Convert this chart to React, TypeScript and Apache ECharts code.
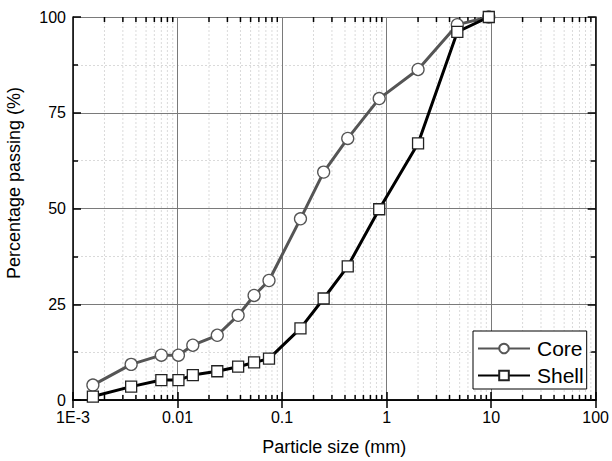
import React, { useEffect, useRef } from 'react';
import * as echarts from 'echarts';

const particleSize = [0.00155, 0.0036, 0.007, 0.0102, 0.014, 0.024, 0.038, 0.054, 0.075, 0.15, 0.25, 0.425, 0.85, 2, 4.75, 9.5];
const corePassing = [3.9, 9.3, 11.7, 11.7, 14.3, 16.9, 22.1, 27.3, 31.2, 47.3, 59.5, 68.3, 78.7, 86.3, 98.0, 100];
const shellPassing = [0.9, 3.5, 5.2, 5.2, 6.5, 7.5, 8.7, 9.8, 10.8, 18.7, 26.5, 34.9, 49.8, 67.0, 96.1, 100];

const decadeStarts = [0.001, 0.01, 0.1, 1, 10];
const minorMultipliers = [2, 3, 4, 5, 6, 7, 8, 9];
const minorXTicks: number[] = [];
decadeStarts.forEach((d) => minorMultipliers.forEach((m) => minorXTicks.push(+(d * m).toPrecision(6))));

const xLabelByExp: Record<number, string> = { [-3]: '1E-3', [-2]: '0.01', [-1]: '0.1', 0: '1', 1: '10', 2: '100' };

const FONT = "'Liberation Sans', Arial, sans-serif";

export default function App() {
  const ref = useRef<HTMLDivElement>(null);
  useEffect(() => {
    if (!ref.current) return;
    const chart = echarts.init(ref.current, null, { renderer: 'svg' });
    const xBase = {
      type: 'log' as const,
      logBase: 10,
      min: 0.001,
      max: 100,
      splitNumber: 5,
    };
    chart.setOption({
      animation: false,
      backgroundColor: '#fff',
      textStyle: { fontFamily: FONT },
      grid: { left: 73, right: 12, top: 17, bottom: 59, containLabel: false },
      xAxis: [
        {
          ...xBase,
          position: 'bottom',
          axisLine: { show: true, lineStyle: { color: '#000', width: 1.5 } },
          axisTick: { show: true, inside: true, length: 8, lineStyle: { color: '#000', width: 1.5 } },
          axisLabel: {
            show: true,
            color: '#000',
            fontSize: 16,
            fontFamily: FONT,
            margin: 9,
            formatter: (v: number) => xLabelByExp[Math.round(Math.log10(v))] ?? '',
          },
          splitLine: { show: true, lineStyle: { color: '#7a7a7a', width: 1 } },
          name: 'Particle size (mm)',
          nameLocation: 'middle',
          nameGap: 38,
          nameTextStyle: { fontSize: 18, color: '#000', fontFamily: FONT },
        },
        {
          ...xBase,
          position: 'top',
          axisLine: { show: true, lineStyle: { color: '#000', width: 1.5 } },
          axisTick: { show: true, inside: true, length: 8, lineStyle: { color: '#000', width: 1.5 } },
          axisLabel: { show: false },
          splitLine: { show: false },
        },
      ],
      yAxis: [
        {
          type: 'value',
          min: 0,
          max: 100,
          interval: 25,
          position: 'left',
          axisLine: { show: true, lineStyle: { color: '#000', width: 1.5 } },
          axisTick: { show: true, inside: true, length: 8, lineStyle: { color: '#000', width: 1.5 } },
          minorTick: { show: true, splitNumber: 2, length: 5, lineStyle: { color: '#000', width: 1.5 } },
          minorSplitLine: { show: true, lineStyle: { color: '#dadada', width: 1, type: [2, 2] } },
          axisLabel: { show: true, color: '#000', fontSize: 16, fontFamily: FONT, margin: 7 },
          splitLine: { show: true, lineStyle: { color: '#7a7a7a', width: 1 } },
        },
        {
          type: 'value',
          min: 0,
          max: 100,
          interval: 25,
          position: 'right',
          axisLine: { show: true, lineStyle: { color: '#000', width: 1.5 } },
          axisTick: { show: true, inside: true, length: 8, lineStyle: { color: '#000', width: 1.5 } },
          minorTick: { show: true, splitNumber: 2, length: 5, lineStyle: { color: '#000', width: 1.5 } },
          axisLabel: { show: false },
          splitLine: { show: false },
        },
      ],
      legend: {
        data: ['Core', 'Shell'],
        orient: 'vertical',
        left: 473,
        top: 331,
        padding: [7, 3, 3, 4],
        itemGap: 6,
        itemWidth: 52,
        itemHeight: 12,
        backgroundColor: '#fff',
        borderColor: '#000',
        borderWidth: 1,
        borderRadius: 0,
        textStyle: { fontSize: 21, color: '#000', fontFamily: FONT, lineHeight: 21, padding: [0, 0, 0, 2] },
      },
      graphic: [
        {
          type: 'text',
          x: 14,
          y: 183,
          rotation: Math.PI / 2,
          style: {
            text: 'Percentage passing (%)',
            fontSize: 18,
            fontFamily: FONT,
            fill: '#000',
            align: 'center',
            verticalAlign: 'middle',
          },
        },
      ],
      series: [
        {
          type: 'custom',
          name: 'minorX',
          xAxisIndex: 0,
          yAxisIndex: 0,
          silent: true,
          z: 1,
          data: minorXTicks.map((v) => [v, 0]),
          renderItem: (params: any, api: any) => {
            const v = api.value(0);
            const b = api.coord([v, 0]);
            const t = api.coord([v, 100]);
            return {
              type: 'group',
              children: [
                { type: 'line', shape: { x1: b[0], y1: b[1], x2: t[0], y2: t[1] }, style: { stroke: '#dadada', lineWidth: 1, lineDash: [2, 2] } },
                { type: 'line', shape: { x1: b[0], y1: b[1], x2: b[0], y2: b[1] - 5 }, style: { stroke: '#000', lineWidth: 1.5 } },
                { type: 'line', shape: { x1: t[0], y1: t[1], x2: t[0], y2: t[1] + 5 }, style: { stroke: '#000', lineWidth: 1.5 } },
              ],
            };
          },
        },
        {
          type: 'line',
          name: 'Core',
          z: 3,
          data: particleSize.map((x, i) => [x, corePassing[i]]),
          symbol: 'circle',
          symbolSize: 12,
          lineStyle: { color: '#555', width: 3 },
          itemStyle: { color: '#fff', borderColor: '#555', borderWidth: 1.3 },
        },
        {
          type: 'line',
          name: 'Shell',
          z: 4,
          data: particleSize.map((x, i) => [x, shellPassing[i]]),
          symbol: 'rect',
          symbolSize: 11,
          lineStyle: { color: '#000', width: 3 },
          itemStyle: { color: '#fff', borderColor: '#222', borderWidth: 1.3 },
        },
      ],
    });
    return () => chart.dispose();
  }, []);
  return <div ref={ref} style={{ width: 612, height: 461, position: 'absolute', left: 0, top: 0 }} />;
}
